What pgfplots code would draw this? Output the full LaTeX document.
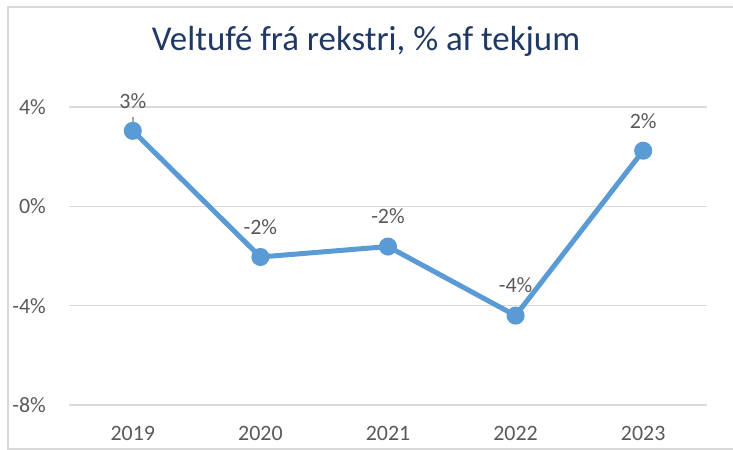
\documentclass[border=0pt]{standalone}
\usepackage{pgfplots}
\pgfplotsset{compat=1.18}
\usepackage{fontspec}
\setmainfont{Carlito}
\definecolor{linecol}{HTML}{5B9BD5}
\definecolor{gridcol}{HTML}{D9D9D9}
\definecolor{txtcol}{HTML}{595959}
\definecolor{leadcol}{HTML}{A6A6A6}
\definecolor{titlecol}{HTML}{1F3864}
\pgfplotstableread{
x y lab
0 3.04 3\%
1 -2.04 -2\%
2 -1.62 -2\%
3 -4.40 -4\%
4 2.24 2\%
}\datatab
\begin{document}
\begin{tikzpicture}
\path[use as bounding box] (0,0) rectangle (733bp,450bp);
\draw[gridcol, line width=2bp] (733bp,443bp) -- (8bp,443bp) -- (8bp,1bp) -- (733bp,1bp);
\node[text=titlecol, font=\fontsize{35}{42}\selectfont] at (366bp,409bp) {Veltufé frá rekstri, \% af tekjum};
\begin{axis}[
  at={(69bp,45bp)}, anchor=south west,
  scale only axis, width=638bp, height=298bp,
  xmin=-0.5, xmax=4.5, ymin=-8, ymax=4,
  axis line style={draw=none},
  xtick={0,1,2,3,4}, xticklabels={2019,2020,2021,2022,2023},
  ytick={-8,-4,0,4}, yticklabels={-8\%,-4\%,0\%,4\%},
  major tick length=0pt,
  ymajorgrids, grid style={gridcol, line width=1.5bp},
  tick label style={text=txtcol, font=\fontsize{22}{26}\selectfont},
  yticklabel style={anchor=east, inner sep=0pt, xshift=-23bp},
  xticklabel style={anchor=center, inner sep=0pt, yshift=-28bp},
  /pgf/number format/assume math mode=true,
  clip=false,
]
\addplot[linecol, line width=5bp, mark=*, mark size=6.5bp, mark options={fill=linecol, draw=none, solid},
  nodes near coords, point meta=explicit symbolic,
  every node near coord/.append style={anchor=center, inner sep=0pt, yshift=30bp, text=txtcol, font=\fontsize{22}{26}\selectfont}]
  table[x=x, y=y, meta=lab] {\datatab};
\draw[leadcol, line width=1.6bp] (axis cs:0,3.1) -- (axis cs:0,3.58);
\end{axis}
\end{tikzpicture}
\end{document}
